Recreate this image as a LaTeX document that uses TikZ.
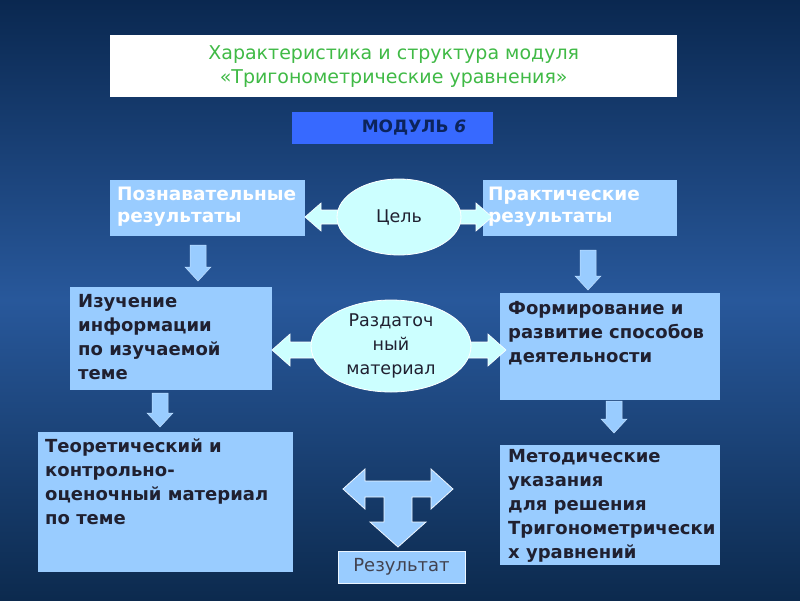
\documentclass[tikz,border=0pt]{standalone}
\usepackage{fontspec}
\setmainfont{DejaVu Sans}
\usetikzlibrary{shapes.geometric,calc}
\definecolor{bgtop}{RGB}{10,40,80}
\definecolor{bgmid}{RGB}{40,88,155}
\definecolor{bgbot}{RGB}{12,42,78}
\definecolor{tgreen}{RGB}{64,186,70}
\definecolor{modblue}{RGB}{55,105,255}
\definecolor{modtxt}{RGB}{12,36,92}
\definecolor{lb}{RGB}{153,204,255}
\definecolor{cy}{RGB}{204,255,255}
\definecolor{dk}{RGB}{32,32,48}
\begin{document}
\begin{tikzpicture}[x=1pt,y=-1pt,
  box/.style={fill=lb, anchor=north west, inner sep=0pt},
  btxt/.style={anchor=north west, inner sep=0pt, align=left, font=\fontsize{18}{24}\selectfont\bfseries},
  oval/.style={ellipse, fill=cy, draw=white, line width=0.8pt, inner sep=0pt, text=dk, align=center},
  blk/.style={fill=cy, draw=white, line width=0.6pt, line join=miter},
  dblk/.style={fill=lb, draw=lb!60!white, line width=0.5pt}]
\path[top color=bgtop, bottom color=bgbot, middle color=bgmid] (0,0) rectangle (800,600);
\useasboundingbox (0,0) rectangle (800,600);

% title
\node[fill=white, minimum width=567, minimum height=62, anchor=north west, inner sep=0pt] (title) at (110,35) {};
\node[text=tgreen, align=center, font=\fontsize{19}{24}\selectfont] (titlet) at (title.center) {Характеристика и структура модуля\\«Тригонометрические уравнения»};

% module
\node[fill=modblue, minimum width=201, minimum height=32, anchor=north west, inner sep=0pt] (mod) at (292,112) {};
\node[text=modtxt, font=\fontsize{17}{20}\selectfont\bfseries] (modt) at (414,128) {МОДУЛЬ \textit{6}};

% boxes
\node[box, minimum width=195, minimum height=56] (k1) at (110,180) {};
\node[btxt, text=white, font=\fontsize{18.5}{24}\selectfont\bfseries] (k1t) at (117,187) {Познавательные\\[-2pt]результаты};
\node[box, minimum width=194, minimum height=56] (k2) at (483,180) {};
\node[btxt, text=white, font=\fontsize{18.5}{24}\selectfont\bfseries] (k2t) at (488,187) {Практические\\[-2pt]результаты};
\node[box, minimum width=202, minimum height=103] (k3) at (70,287) {};
\node[btxt, text=dk] (k3t) at (78,294) {Изучение\\информации\\по изучаемой\\теме};
\node[box, minimum width=220, minimum height=107] (k4) at (500,293) {};
\node[btxt, text=dk] (k4t) at (508,301) {Формирование и\\развитие способов\\деятельности};
\node[box, minimum width=255, minimum height=140] (k5) at (38,432) {};
\node[btxt, text=dk] (k5t) at (45,439) {Теоретический и\\контрольно-\\оценочный материал\\по теме};
\node[box, minimum width=220, minimum height=120] (k6) at (500,445) {};
\node[btxt, text=dk] (k6t) at (508,449) {Методические\\указания\\для решения\\Тригонометрически\\х уравнений};

% horizontal block arrows
\draw[blk] (348,210) -- (321,210) -- (321,203) -- (305,217) -- (321,231) -- (321,224) -- (348,224) -- cycle;
\draw[blk] (452,210) -- (476,210) -- (476,203) -- (492,217) -- (476,231) -- (476,224) -- (452,224) -- cycle;
\draw[blk] (320,342) -- (290,342) -- (290,334) -- (272,350) -- (290,366) -- (290,358) -- (320,358) -- cycle;
\draw[blk] (465,342) -- (488,342) -- (488,334) -- (506,350) -- (488,366) -- (488,358) -- (465,358) -- cycle;

% ovals
\node[oval, minimum width=124, minimum height=76, font=\fontsize{17.5}{20}\selectfont] (e1) at (399,217) {Цель};
\node[oval, minimum width=160, minimum height=92, font=\fontsize{17.5}{24}\selectfont] (e2) at (391,346) {Раздаточ\\ный\\материал};

% down block arrows
\draw[dblk] (190,245) -- (206,245) -- (206,267) -- (211,267) -- (198,281) -- (185,267) -- (190,267) -- cycle;
\draw[dblk] (580,250) -- (596,250) -- (596,276) -- (601,276) -- (588,290) -- (575,276) -- (580,276) -- cycle;
\draw[dblk] (152,393) -- (168,393) -- (168,413) -- (173,413) -- (160,427) -- (147,413) -- (152,413) -- cycle;
\draw[dblk] (606,401) -- (622,401) -- (622,419) -- (627,419) -- (614,433) -- (601,419) -- (606,419) -- cycle;

% T arrow
\draw[dblk, draw=white!85!lb, line width=0.8pt] (343,489) -- (365,469) -- (365,481) -- (431,481) -- (431,469) -- (453,489) -- (431,509) -- (431,497) -- (412,497) -- (412,522) -- (426,522) -- (398,547) -- (370,522) -- (384,522) -- (384,497) -- (365,497) -- (365,509) -- cycle;

% result
\node[fill=lb, draw=white!80!lb, line width=0.8pt, minimum width=127, minimum height=32, inner sep=0pt, text=dk!85, font=\fontsize{18}{20}\selectfont] (res) at (401.5,567) {Результат};
\end{tikzpicture}
\end{document}
